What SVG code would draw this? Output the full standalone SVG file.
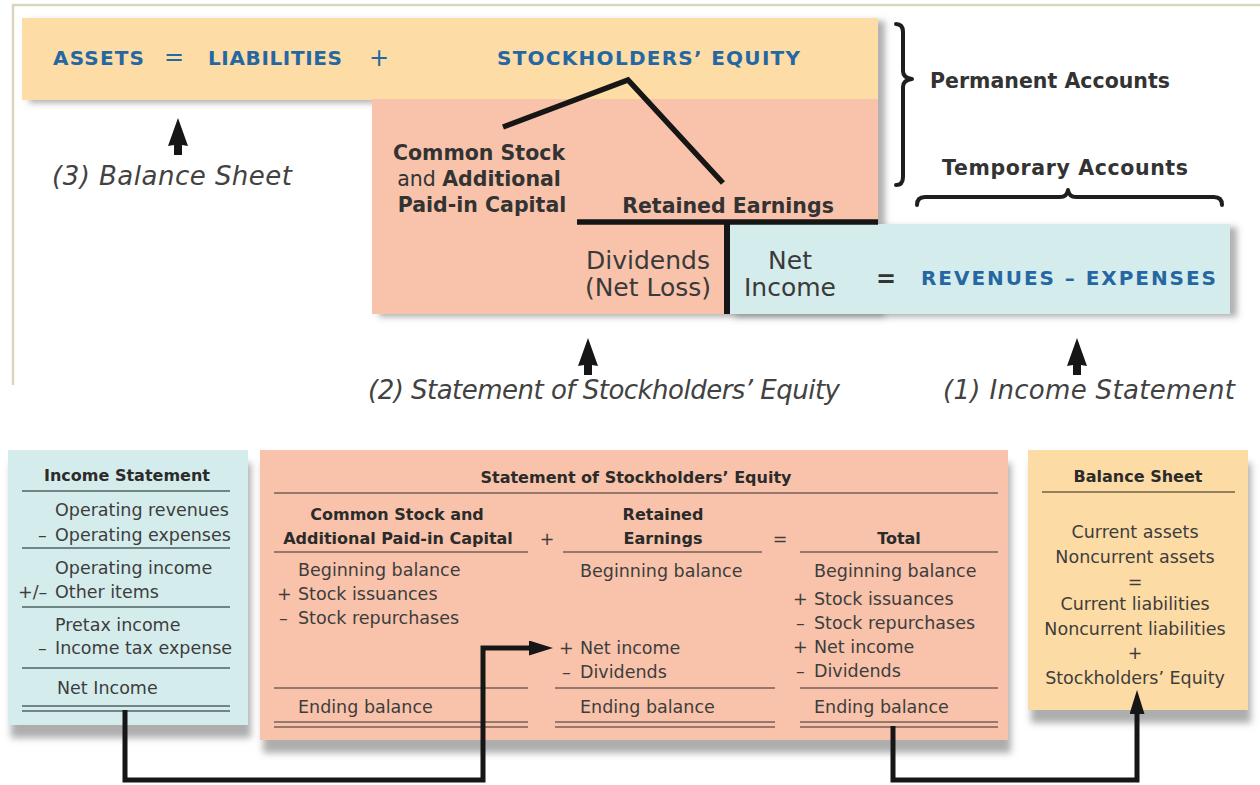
<svg xmlns="http://www.w3.org/2000/svg" xmlns:xlink="http://www.w3.org/1999/xlink" width="1260" height="785" viewBox="0 0 1260 785">
<defs>
<style>
text{font-family:"DejaVu Sans","Liberation Sans",sans-serif}
.hd{font-weight:bold;font-size:16px;fill:#2b2b2b}
.bd{font-size:17.5px;fill:#3d3d3d}
.blue{font-weight:bold;font-size:20px;fill:#2467a3}
.big{font-weight:bold;font-size:20.5px;fill:#333}
.reg{font-weight:normal}
.mid{font-size:25px;fill:#3a3a3a}
.lab{font-style:italic;font-size:26px;fill:#424242}
.rs{stroke:#76605a;stroke-width:1.6;fill:none}
.rb{stroke:#4f6464;stroke-width:1.6;fill:none}
.ro{stroke:#6e6048;stroke-width:1.6;fill:none}
.conn{fill:none;stroke:#161616;stroke-width:5;stroke-linejoin:miter}
.heavy{stroke:#161616;stroke-width:5.5;fill:none}
.brace{fill:none;stroke:#1e1e1e;stroke-width:4;stroke-linecap:round;stroke-linejoin:round}
.frame{stroke:#d9d6c0;stroke-width:2.5;fill:none}
</style>
<filter id="shTop" x="-5%" y="-5%" width="115%" height="120%">
<feDropShadow dx="7" dy="3" stdDeviation="3" flood-color="#7d7d7d" flood-opacity="0.6"/>
</filter>
<filter id="shBox" x="-5%" y="-5%" width="115%" height="130%">
<feDropShadow dx="3" dy="13" stdDeviation="3.5" flood-color="#8a8a8a" flood-opacity="0.7"/>
</filter>
<marker id="ah" viewBox="0 0 24 15" refX="1" refY="7.5" markerWidth="24" markerHeight="15" markerUnits="userSpaceOnUse" orient="auto">
<path d="M0,0 L24,7.5 L0,15 Z" fill="#161616"/>
</marker>
<path id="up" d="M0,0 L10,28 L4,27 L4,37 L-4,37 L-4,27 L-10,28 Z" fill="#161616"/>
</defs>

<rect width="1260" height="785" fill="#ffffff"/>
<path class="frame" d="M13,385 V5 H1260"/>

<g id="equation">
<g filter="url(#shTop)">
<rect x="22" y="18" width="856" height="82" fill="#fddca6"/>
<rect x="372" y="99" width="506" height="215" fill="#f8c3aa"/>
</g>
<text class="blue" x="53" y="65" textLength="91" lengthAdjust="spacing">ASSETS</text>
<text class="blue" x="174" y="65" text-anchor="middle" style="font-weight:normal;font-size:24px">=</text>
<text class="blue" x="208" y="65" textLength="134" lengthAdjust="spacing">LIABILITIES</text>
<text class="blue" x="379" y="66" text-anchor="middle" style="font-weight:normal;font-size:24px">+</text>
<text class="blue" x="497" y="65" textLength="303" lengthAdjust="spacing">STOCKHOLDERS’ EQUITY</text>
</g>

<g id="equity-split">
<path class="heavy" d="M503,127 L628,80 L723,183"/>
<text class="big" x="479" y="160" text-anchor="middle">Common Stock</text>
<text class="big" x="479" y="186" text-anchor="middle"><tspan class="reg">and </tspan>Additional</text>
<text class="big" x="482" y="212" text-anchor="middle">Paid-in Capital</text>
<text class="big" x="728" y="213" text-anchor="middle">Retained Earnings</text>
</g>

<g id="net-income-equation">
<rect x="728" y="224" width="502" height="90" fill="#d5ecec" filter="url(#shTop)"/>
<path class="heavy" d="M577,222 H878"/>
<path class="heavy" d="M727,220 V314" style="stroke-width:6"/>
<text class="mid" x="648" y="269" text-anchor="middle">Dividends</text>
<text class="mid" x="648" y="296" text-anchor="middle">(Net Loss)</text>
<text class="mid" x="790" y="269" text-anchor="middle">Net</text>
<text class="mid" x="790" y="296" text-anchor="middle">Income</text>
<text x="886" y="287" text-anchor="middle" style="font-size:24px;font-weight:bold;fill:#333">=</text>
<text class="blue" x="921" y="285" textLength="295" lengthAdjust="spacing">REVENUES – EXPENSES</text>
</g>

<g id="permanent-accounts">
<path class="brace" d="M896,24 Q903,24 903,32 L903,71 Q903,78 912,79 Q903,80 903,87 L903,177 Q903,185 896,185"/>
<text class="big" x="930" y="88" textLength="240" lengthAdjust="spacing">Permanent Accounts</text>
</g>

<g id="temporary-accounts">
<path class="brace" d="M917,205 Q917,197 925,197 L1060,197 Q1067,197 1068,190 Q1069,197 1076,197 L1214,197 Q1222,197 1222,205"/>
<text class="big" x="942" y="175" textLength="246" lengthAdjust="spacing">Temporary Accounts</text>
</g>

<g id="label-balance-sheet">
<text class="lab" x="52" y="185" textLength="240" lengthAdjust="spacing">(3) Balance Sheet</text>
</g>
<g id="label-stockholders-equity">
<text class="lab" x="368" y="399" textLength="472" lengthAdjust="spacing">(2) Statement of Stockholders’ Equity</text>
</g>
<g id="label-income-statement">
<text class="lab" x="943" y="399" textLength="292" lengthAdjust="spacing">(1) Income Statement</text>
</g>

<g id="income-statement">
<rect x="8" y="450" width="240" height="275" fill="#d5ecec" filter="url(#shBox)"/>
<text class="hd" x="127" y="481" text-anchor="middle">Income Statement</text>
<path class="rb" d="M22,491 H230 M22,548 H230 M22,607 H230 M22,668 H230 M22,706 H230 M22,711 H230"/>
<text class="bd" x="55" y="516">Operating revenues</text>
<text class="bd" x="38" y="541">–<tspan x="55">Operating expenses</tspan></text>
<text class="bd" x="55" y="574">Operating income</text>
<text class="bd" x="18" y="598">+/–<tspan x="55">Other items</tspan></text>
<text class="bd" x="55" y="631">Pretax income</text>
<text class="bd" x="38" y="654">–<tspan x="55">Income tax expense</tspan></text>
<text class="bd" x="57" y="694">Net Income</text>
</g>

<g id="statement-of-stockholders-equity">
<rect x="260" y="450" width="748" height="290" fill="#f8c3aa" filter="url(#shBox)"/>
<text class="hd" x="636" y="483" text-anchor="middle">Statement of Stockholders’ Equity</text>
<path class="rs" d="M274,493 H998"/>
<text class="hd" x="397" y="520" text-anchor="middle">Common Stock and</text>
<text class="hd" x="398" y="544" text-anchor="middle">Additional Paid-in Capital</text>
<text class="bd" x="547" y="545" text-anchor="middle">+</text>
<text class="hd" x="663" y="520" text-anchor="middle">Retained</text>
<text class="hd" x="663" y="544" text-anchor="middle">Earnings</text>
<text class="bd" x="780" y="545" text-anchor="middle">=</text>
<text class="hd" x="899" y="544" text-anchor="middle">Total</text>
<path class="rs" d="M274,552 H528 M563,552 H762 M800,552 H998"/>
<text class="bd" x="298" y="576">Beginning balance</text>
<text class="bd" x="277" y="600">+<tspan x="298">Stock issuances</tspan></text>
<text class="bd" x="279" y="624">–<tspan x="298">Stock repurchases</tspan></text>
<text class="bd" x="580" y="577">Beginning balance</text>
<text class="bd" x="559" y="654">+<tspan x="580">Net income</tspan></text>
<text class="bd" x="562" y="678">–<tspan x="580">Dividends</tspan></text>
<text class="bd" x="814" y="577">Beginning balance</text>
<text class="bd" x="793" y="605">+<tspan x="814">Stock issuances</tspan></text>
<text class="bd" x="796" y="629">–<tspan x="814">Stock repurchases</tspan></text>
<text class="bd" x="793" y="653">+<tspan x="814">Net income</tspan></text>
<text class="bd" x="796" y="677">–<tspan x="814">Dividends</tspan></text>
<path class="rs" d="M274,688 H528 M555,688 H775 M800,688 H998"/>
<text class="bd" x="298" y="713">Ending balance</text>
<text class="bd" x="580" y="713">Ending balance</text>
<text class="bd" x="814" y="713">Ending balance</text>
<path class="rs" d="M274,722 H528 M555,722 H775 M800,722 H998 M274,727 H528 M555,727 H775 M800,727 H998"/>
</g>

<g id="balance-sheet">
<rect x="1028" y="450" width="220" height="260" fill="#fddba4" filter="url(#shBox)"/>
<text class="hd" x="1138" y="482" text-anchor="middle">Balance Sheet</text>
<path class="ro" d="M1042,492 H1235"/>
<text class="bd" x="1135" y="538" text-anchor="middle">Current assets</text>
<text class="bd" x="1135" y="563" text-anchor="middle">Noncurrent assets</text>
<text class="bd" x="1135" y="588" text-anchor="middle">=</text>
<text class="bd" x="1135" y="610" text-anchor="middle">Current liabilities</text>
<text class="bd" x="1135" y="635" text-anchor="middle">Noncurrent liabilities</text>
<text class="bd" x="1135" y="659" text-anchor="middle">+</text>
<text class="bd" x="1135" y="684" text-anchor="middle">Stockholders’ Equity</text>
</g>

<g id="connectors">
<use xlink:href="#up" x="178" y="118"/>
<use xlink:href="#up" x="588" y="338"/>
<use xlink:href="#up" x="1077" y="338"/>
<path class="conn" d="M125,710 V780 H483 V648 H530" marker-end="url(#ah)"/>
<path class="conn" d="M893,726 V780 H1137 V713" marker-end="url(#ah)"/>
</g>
</svg>
